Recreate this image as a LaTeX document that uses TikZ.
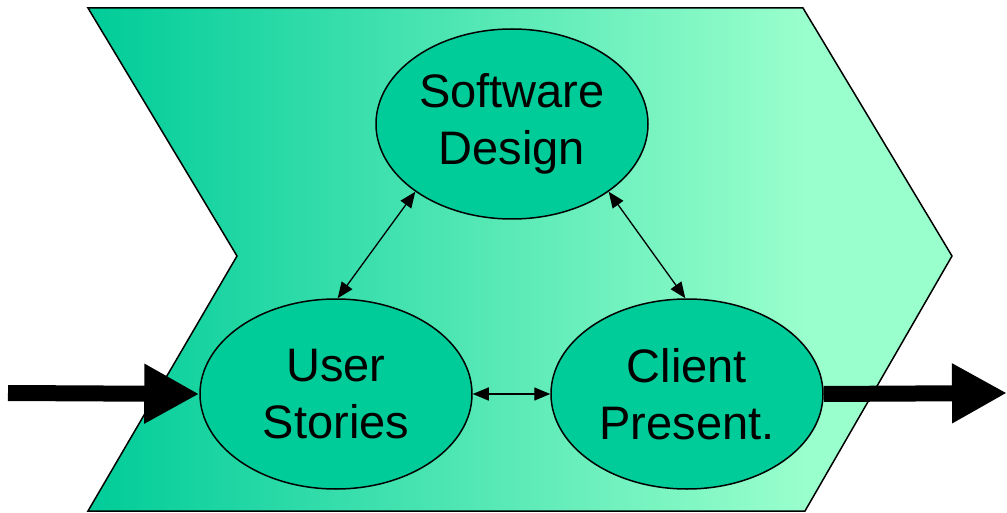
\documentclass[tikz,border=0pt]{standalone}
\usepackage{fontspec}
\setmainfont{Liberation Sans}
\usetikzlibrary{arrows.meta,shapes.geometric}
\definecolor{darkg}{RGB}{0,204,153}
\definecolor{lightg}{RGB}{153,255,204}
\definecolor{ellg}{RGB}{0,204,153}
\pgfdeclarehorizontalshading{chevshade}{100bp}{color(0bp)=(darkg); color(25bp)=(darkg); color(66.4bp)=(lightg); color(100bp)=(lightg)}
\tikzset{
  phase/.style={ellipse, draw=black, line width=1.5pt, fill=ellg, inner sep=0pt,
    minimum width=272pt, minimum height=190pt, align=center,
    font=\fontsize{47}{57}\selectfont},
  link/.style={line width=1.3pt, {Triangle[length=16pt,width=13pt]}-{Triangle[length=16pt,width=13pt]}},
  flow/.style={line width=16pt, -{Triangle[length=55pt,width=56pt]}}
}
\begin{document}
\begin{tikzpicture}[x=1pt,y=-1pt]
\useasboundingbox (0,0) rectangle (1007,513);
\path[draw=black, line width=1.5pt, shading=chevshade]
  (88,8) -- (803,8) -- (952,256) -- (805,511) -- (88,511) -- (237,256) -- cycle;
\node[phase] (sd) at (512,124) {Software\\Design};
\node[phase] (us) at (336,394) {User\\Stories};
\node[phase] (cp) at (687,394) {Client\\Present.};
\coordinate (in) at (8,393);
\coordinate (out) at (1007,393);
\draw[link] (sd.215) -- (us.89);
\draw[link] (sd.325) -- (cp.91);
\draw[link] (us.east) -- (cp.west);
\draw[flow] (in) -- (us.west);
\draw[flow] (cp.east) -- (out);
\end{tikzpicture}
\end{document}
